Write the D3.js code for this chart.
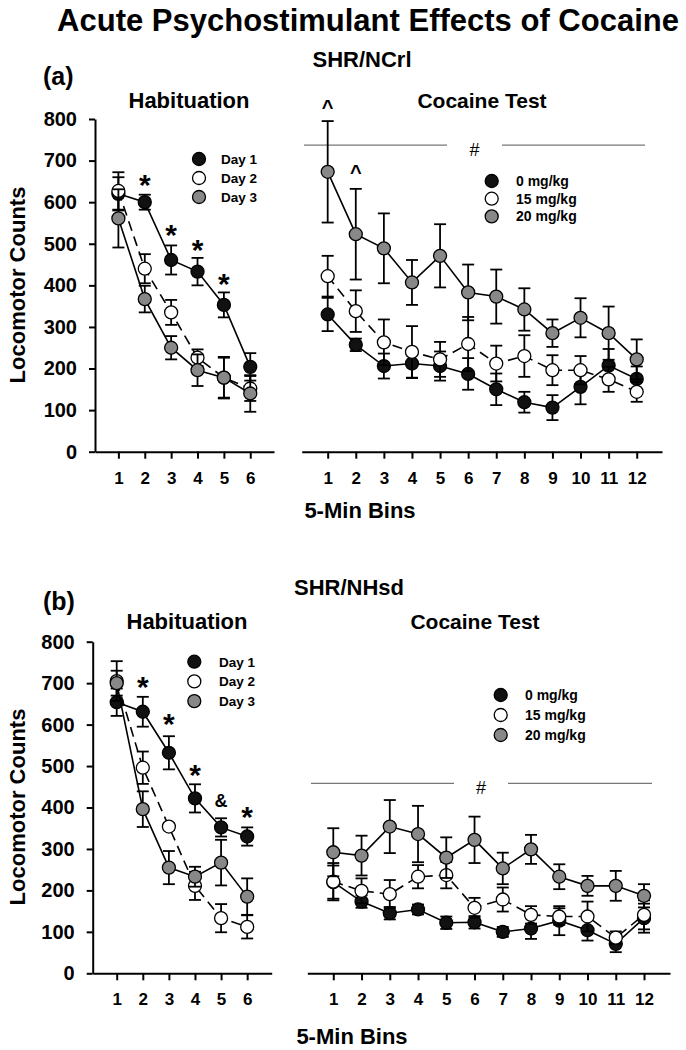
<!DOCTYPE html>
<html>
<head>
<meta charset="utf-8">
<script src="https://cdn.jsdelivr.net/npm/d3@7"></script>
<style>
  html, body { margin: 0; padding: 0; background: #fff; }
  svg { display: block; }
  text { font-family: "Liberation Sans", Arial, sans-serif; }
</style>
</head>
<body>
<svg id="chart" width="686" height="1050"></svg>
<script>
// ---------------- DATA ----------------
const habBins = [1, 2, 3, 4, 5, 6];
const cocBins = [1, 2, 3, 4, 5, 6, 7, 8, 9, 10, 11, 12];
const yTicks = [0, 100, 200, 300, 400, 500, 600, 700, 800];

const habLabels = ["Day 1", "Day 2", "Day 3"];
const cocLabels = ["0 mg/kg", "15 mg/kg", "20 mg/kg"];

// (a) SHR/NCrl – Habituation
const aHabDay1 = [620, 600, 461, 433, 353, 204];
const aHabDay1Err = [40, 18, 35, 33, 30, 33];
const aHabDay2 = [627, 440, 335, 226, 178, 152];
const aHabDay2Err = [45, 35, 30, 20, 48, 30];
const aHabDay3 = [561, 367, 250, 196, 178, 140];
const aHabDay3Err = [70, 32, 28, 38, 50, 44];

// (a) SHR/NCrl – Cocaine Test
const aCoc0 = [330, 257, 206, 212, 206, 187, 150, 119, 106, 156, 207, 175];
const aCoc0Err = [40, 15, 30, 35, 35, 38, 38, 25, 30, 42, 40, 30];
const aCoc15 = [422, 338, 263, 240, 222, 259, 212, 230, 196, 196, 174, 144];
const aCoc15Err = [49, 50, 55, 62, 42, 65, 43, 50, 36, 34, 30, 24];
const aCoc20 = [673, 523, 489, 407, 471, 383, 373, 342, 285, 322, 285, 222];
const aCoc20Err = [122, 109, 84, 54, 76, 67, 65, 51, 33, 47, 64, 48];

// (b) SHR/NHsd – Habituation
const bHabDay1 = [654, 631, 532, 422, 352, 330];
const bHabDay1Err = [33, 36, 40, 34, 22, 22];
const bHabDay2 = [705, 496, 354, 211, 133, 112];
const bHabDay2Err = [48, 39, 8, 34, 34, 28];
const bHabDay3 = [700, 396, 255, 233, 267, 185];
const bHabDay3Err = [30, 43, 40, 24, 55, 44];

// (b) SHR/NHsd – Cocaine Test
const bCoc0 = [220, 173, 145, 154, 122, 123, 100, 108, 127, 104, 71, 133];
const bCoc0Err = [40, 15, 15, 12, 15, 15, 12, 25, 35, 25, 20, 35];
const bCoc15 = [221, 199, 191, 233, 237, 158, 178, 141, 137, 137, 86, 141];
const bCoc15Err = [45, 30, 34, 28, 32, 24, 29, 21, 20, 36, 15, 35];
const bCoc20 = [292, 284, 354, 336, 279, 322, 253, 299, 233, 211, 211, 187];
const bCoc20Err = [58, 48, 64, 68, 49, 56, 38, 35, 30, 24, 36, 28];

// significance marks (bin, value-level, symbol)
const aHabMarks = [[2, 657, "*"], [3, 537, "*"], [4, 503, "*"], [5, 421, "*"]];
const aCocMarks = [[1, 838, "^"], [2, 682, "^"]];
const bHabMarks = [[2, 708, "*"], [3, 619, "*"], [4, 495, "*"], [5, 416, "&"], [6, 394, "*"]];
const aHashLevel = 737;
const bHashLevel = 458;

// ---------------- DRAWING ----------------
const svg = d3.select("#chart");
const FONT = '"Liberation Sans", Arial, sans-serif';
const fills = ["#111111", "#ffffff", "#888888"];
const dashes = [null, "10,6", null];

svg.append("text").attr("x", 368).attr("y", 31).attr("text-anchor", "middle")
  .attr("font-size", 31).attr("font-weight", "bold").text("Acute Psychostimulant Effects of Cocaine");

function drawHeader(strain, strainY, letter, letterY, habX, cocX, subY, yAxisX, yMid) {
  svg.append("text").attr("x", strainY[0]).attr("y", strainY[1]).attr("text-anchor", "middle")
    .attr("font-size", 22).attr("font-weight", "bold").text(strain);
  svg.append("text").attr("x", letter[1]).attr("y", letterY).attr("font-size", 25)
    .attr("font-weight", "bold").text(letter[0]);
  svg.append("text").attr("x", habX).attr("y", subY).attr("text-anchor", "middle")
    .attr("font-size", 22).attr("font-weight", "bold").text("Habituation");
  svg.append("text").attr("x", cocX).attr("y", subY).attr("text-anchor", "middle")
    .attr("font-size", 21).attr("font-weight", "bold").text("Cocaine Test");
  svg.append("text").attr("transform", `translate(25,${yMid}) rotate(-90)`)
    .attr("text-anchor", "middle").attr("font-size", 22).attr("font-weight", "bold")
    .text("Locomotor Counts");
}

function styleAxis(g, fs) {
  g.selectAll("path.domain").attr("stroke", "#000").attr("stroke-width", 2);
  g.selectAll(".tick line").attr("stroke", "#000").attr("stroke-width", 2);
  g.selectAll(".tick text").attr("font-family", FONT).attr("font-size", fs)
    .attr("font-weight", "bold").attr("fill", "#000");
}

function drawPanel(cfg) {
  const x = d3.scaleLinear().domain(cfg.xDomain).range(cfg.xRange);
  const y = d3.scaleLinear().domain([0, 800]).range(cfg.yRange);
  const g = svg.append("g");

  if (cfg.yAxis) {
    const ya = g.append("g").attr("transform", `translate(${cfg.xRange[0]},0)`)
      .call(d3.axisLeft(y).tickValues(yTicks).tickFormat(d3.format("d"))
        .tickSize(6).tickPadding(12).tickSizeOuter(0));
    styleAxis(ya, 20);
  }
  const xa = g.append("g").attr("transform", `translate(0,${cfg.yRange[0]})`)
    .call(d3.axisBottom(x).tickValues(cfg.bins).tickFormat(d3.format("d"))
      .tickSize(7).tickPadding(13).tickSizeOuter(0));
  styleAxis(xa, 17);

  // hash reference line
  if (cfg.hash != null) {
    const hy = y(cfg.hash);
    g.append("line").attr("x1", cfg.hashSeg[0]).attr("x2", cfg.hashSeg[1]).attr("y1", hy).attr("y2", hy)
      .attr("stroke", "#777").attr("stroke-width", 1.3);
    g.append("line").attr("x1", cfg.hashSeg[2]).attr("x2", cfg.hashSeg[3]).attr("y1", hy).attr("y2", hy)
      .attr("stroke", "#777").attr("stroke-width", 1.3);
    g.append("text").attr("x", (cfg.hashSeg[1] + cfg.hashSeg[2]) / 2).attr("y", hy + 11)
      .attr("text-anchor", "middle").attr("font-size", 18).text("#");
  }

  cfg.series.forEach((s, i) => {
    const pts = cfg.bins.map((b, j) => ({ b, v: s.v[j], e: s.e[j] }));
    const sg = g.append("g");
    // error bars
    pts.forEach(p => {
      const cx = x(p.b);
      sg.append("line").attr("x1", cx).attr("x2", cx).attr("y1", y(p.v + p.e)).attr("y2", y(p.v - p.e))
        .attr("stroke", "#000").attr("stroke-width", 1.8);
      [p.v + p.e, p.v - p.e].forEach(val => {
        sg.append("line").attr("x1", cx - 6).attr("x2", cx + 6).attr("y1", y(val)).attr("y2", y(val))
          .attr("stroke", "#000").attr("stroke-width", 1.8);
      });
    });
    // line
    sg.append("path").datum(pts)
      .attr("d", d3.line().x(p => x(p.b)).y(p => y(p.v)))
      .attr("fill", "none").attr("stroke", "#000").attr("stroke-width", 1.6)
      .attr("stroke-dasharray", dashes[i]);
    // markers
    sg.selectAll("circle").data(pts).join("circle")
      .attr("cx", p => x(p.b)).attr("cy", p => y(p.v)).attr("r", 6.5)
      .attr("fill", fills[i]).attr("stroke", "#000").attr("stroke-width", 1.3);
  });

  // significance marks
  (cfg.marks || []).forEach(([b, v, sym]) => {
    const t = g.append("text").attr("x", x(b)).attr("text-anchor", "middle").attr("font-weight", "bold").text(sym);
    if (sym === "*") t.attr("font-size", 30).attr("y", y(v) + 17);
    else if (sym === "^") t.attr("font-size", 20).attr("y", y(v) + 11);
    else t.attr("font-size", 18).attr("y", y(v) + 6);
  });

  // legend
  const L = cfg.legend;
  cfg.labels.forEach((lab, i) => {
    const ly = L.y + i * L.dy;
    g.append("circle").attr("cx", L.x).attr("cy", ly).attr("r", 6.5)
      .attr("fill", fills[i]).attr("stroke", "#000").attr("stroke-width", 1.3);
    g.append("text").attr("x", L.tx).attr("y", ly + 5).attr("font-size", L.fs)
      .attr("font-weight", "bold").text(lab);
  });

  if (cfg.xLabel) {
    svg.append("text").attr("x", cfg.xLabel[0]).attr("y", cfg.xLabel[1]).attr("text-anchor", "middle")
      .attr("font-size", 22).attr("font-weight", "bold").text("5-Min Bins");
  }
}

// ----- Panel (a) -----
drawHeader("SHR/NCrl", [362, 67], ["(a)", 43], 85, 189, 482, 108, 95, 285);
drawPanel({
  bins: habBins, xDomain: [0.113, 6.9], xRange: [95, 274], yRange: [451.7, 119], yAxis: true,
  series: [{ v: aHabDay1, e: aHabDay1Err }, { v: aHabDay2, e: aHabDay2Err }, { v: aHabDay3, e: aHabDay3Err }],
  labels: habLabels, legend: { x: 199, y: 159, dy: 19, tx: 221, fs: 13.5 },
  marks: aHabMarks
});
drawPanel({
  bins: cocBins, xDomain: [0.075, 12.9], xRange: [301.7, 662], yRange: [451.7, 119], yAxis: false,
  series: [{ v: aCoc0, e: aCoc0Err }, { v: aCoc15, e: aCoc15Err }, { v: aCoc20, e: aCoc20Err }],
  labels: cocLabels, legend: { x: 491.7, y: 181, dy: 17.7, tx: 516, fs: 14 },
  marks: aCocMarks, hash: aHashLevel, hashSeg: [304, 447, 502, 645],
  xLabel: [360, 518]
});

// ----- Panel (b) -----
drawHeader("SHR/NHsd", [349, 595], ["(b)", 43], 610, 187, 475, 629, 92.7, 807);
drawPanel({
  bins: habBins, xDomain: [0.08, 6.94], xRange: [92.7, 271.7], yRange: [973.3, 641.7], yAxis: true,
  series: [{ v: bHabDay1, e: bHabDay1Err }, { v: bHabDay2, e: bHabDay2Err }, { v: bHabDay3, e: bHabDay3Err }],
  labels: habLabels, legend: { x: 194.3, y: 661.7, dy: 19.7, tx: 219, fs: 13.5 },
  marks: bHabMarks
});
drawPanel({
  bins: cocBins, xDomain: [0.08, 12.92], xRange: [307.3, 670], yRange: [973.3, 641.7], yAxis: false,
  series: [{ v: bCoc0, e: bCoc0Err }, { v: bCoc15, e: bCoc15Err }, { v: bCoc20, e: bCoc20Err }],
  labels: cocLabels, legend: { x: 500.7, y: 695, dy: 20, tx: 525, fs: 14 },
  hash: bHashLevel, hashSeg: [311, 454, 508, 652],
  xLabel: [352, 1044]
});
</script>
</body>
</html>
